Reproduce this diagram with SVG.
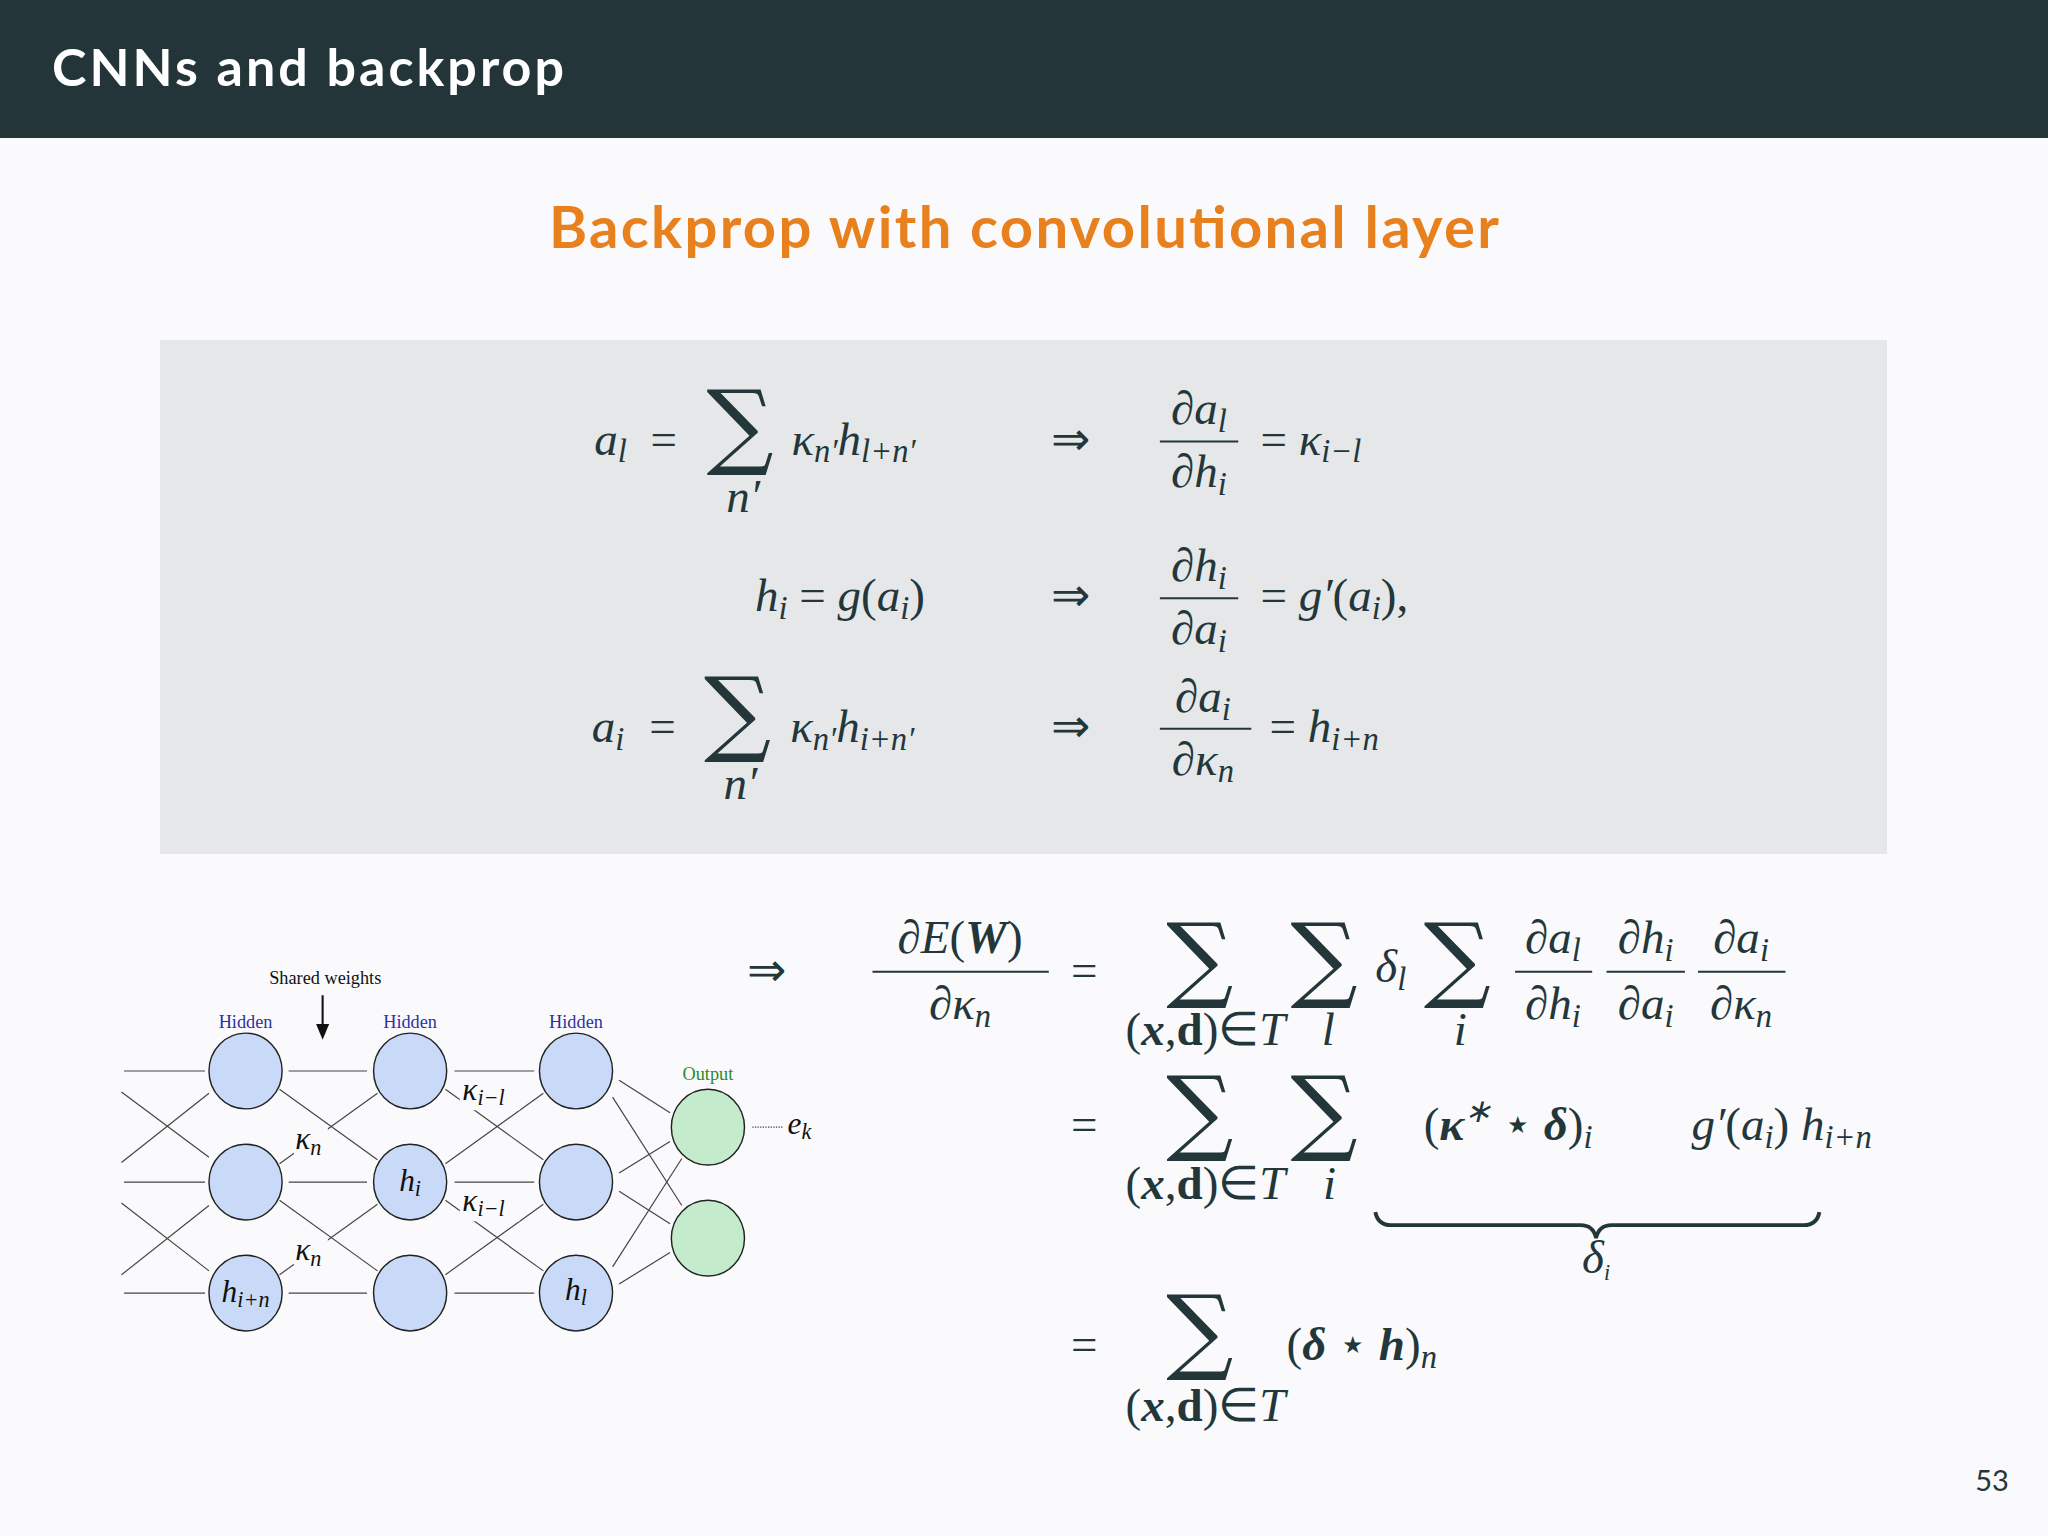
<svg xmlns="http://www.w3.org/2000/svg" width="2048" height="1536" viewBox="0 0 2048 1536">
<style>
.m{font-family:"Liberation Serif",serif;font-style:italic;fill:#23373B;font-size:36px}
.r{font-style:normal}
.s{font-size:25px}
.b{font-weight:bold}
.sum{font-family:"DejaVu Serif",serif;font-style:normal;fill:#23373B;font-size:72px}
.fl{stroke:#23373B;stroke-width:1.6}
.e{stroke:#444;stroke-width:0.9;fill:none}
.hid{fill:#C9DAF8;stroke:#222;stroke-width:1.1}
.out{fill:#C4EBCB;stroke:#222;stroke-width:1.1}
.lab{font-family:"Liberation Serif",serif;font-size:14px}
.nm{font-family:"Liberation Serif",serif;font-style:italic;fill:#111;font-size:24px}
.ns{font-size:17px}
</style>
<rect width="2048" height="1536" fill="#FAFAFC"/>
<rect width="2048" height="138" fill="#233539"/>
<text x="52" y="86" font-family="Lato,'Open Sans',sans-serif" font-weight="bold" font-size="52" fill="#FFFFFF" textLength="512">CNNs and backprop</text>
<text x="1024" y="248" text-anchor="middle" font-family="Lato,'Open Sans',sans-serif" font-weight="bold" font-size="58" fill="#E8801E" textLength="950">Backprop with convolutional layer</text>
<rect x="160" y="340" width="1727" height="514" fill="#E5E7E9"/>
<text x="1992" y="1491" text-anchor="middle" font-family="Lato,'Open Sans',sans-serif" font-size="29" fill="#23373B">53</text>

<g transform="scale(1.30612)">
<g id="eq1">
<text class="m" x="455" y="348">a<tspan class="s" dy="6">l</tspan></text>
<text class="m r" x="498" y="348">=</text>
<text class="sum" x="541" y="350">∑</text>
<text class="m" x="556" y="392" font-size="26">n′</text>
<text class="m" x="606" y="348">κ<tspan class="s" dy="6">n′</tspan><tspan dy="-6">h</tspan><tspan class="s" dy="6">l+n′</tspan></text>
<text class="m r" x="805" y="348">⇒</text>
<text class="m" x="918" y="325" text-anchor="middle">∂a<tspan class="s" dy="6">l</tspan></text>
<line class="fl" x1="888" y1="338" x2="948" y2="338"/>
<text class="m" x="918" y="373" text-anchor="middle">∂h<tspan class="s" dy="6">i</tspan></text>
<text class="m" x="965" y="348"><tspan class="r">=</tspan> κ<tspan class="s" dy="6">i−l</tspan></text>
</g>
<g id="eq2">
<text class="m" x="578" y="468">h<tspan class="s" dy="6">i</tspan><tspan class="r" dy="-6"> = </tspan>g<tspan class="r">(</tspan>a<tspan class="s" dy="6">i</tspan><tspan class="r" dy="-6">)</tspan></text>
<text class="m r" x="805" y="468">⇒</text>
<text class="m" x="918" y="445" text-anchor="middle">∂h<tspan class="s" dy="6">i</tspan></text>
<line class="fl" x1="888" y1="458" x2="948" y2="458"/>
<text class="m" x="918" y="493" text-anchor="middle">∂a<tspan class="s" dy="6">i</tspan></text>
<text class="m" x="965" y="468"><tspan class="r">=</tspan> g′<tspan class="r">(</tspan>a<tspan class="s" dy="6">i</tspan><tspan class="r" dy="-6">),</tspan></text>
</g>
<g id="eq3">
<text class="m" x="453" y="568">a<tspan class="s" dy="6">i</tspan></text>
<text class="m r" x="497" y="568">=</text>
<text class="sum" x="539" y="570">∑</text>
<text class="m" x="554" y="612" font-size="26">n′</text>
<text class="m" x="605" y="568">κ<tspan class="s" dy="6">n′</tspan><tspan dy="-6">h</tspan><tspan class="s" dy="6">i+n′</tspan></text>
<text class="m r" x="805" y="568">⇒</text>
<text class="m" x="921" y="545" text-anchor="middle">∂a<tspan class="s" dy="6">i</tspan></text>
<line class="fl" x1="888" y1="558" x2="958" y2="558"/>
<text class="m" x="921" y="593" text-anchor="middle">∂κ<tspan class="s" dy="6">n</tspan></text>
<text class="m" x="972" y="568"><tspan class="r">=</tspan> h<tspan class="s" dy="6">i+n</tspan></text>
</g>

<g id="deriv">
<text class="m r" x="572" y="755">⇒</text>
<text class="m" x="735" y="730" text-anchor="middle">∂E<tspan class="r">(</tspan><tspan class="b">W</tspan><tspan class="r">)</tspan></text>
<line class="fl" x1="668" y1="744" x2="803" y2="744"/>
<text class="m" x="735" y="780" text-anchor="middle">∂κ<tspan class="s" dy="6">n</tspan></text>
<text class="m r" x="820" y="755">=</text>
<text class="sum" x="893" y="758">∑</text>
<text class="m" x="923" y="800" font-size="23" text-anchor="middle"><tspan class="r">(</tspan><tspan class="b">x</tspan><tspan class="r">,</tspan><tspan class="b r">d</tspan><tspan class="r">)∈</tspan>T</text>
<text class="sum" x="988" y="758">∑</text>
<text class="m" x="1017" y="800" font-size="23" text-anchor="middle">l</text>
<text class="m" x="1053" y="752">δ<tspan class="s" dy="6">l</tspan></text>
<text class="sum" x="1090" y="758">∑</text>
<text class="m" x="1118" y="800" font-size="23" text-anchor="middle">i</text>
<text class="m" x="1189" y="730" text-anchor="middle">∂a<tspan class="s" dy="6">l</tspan></text>
<line class="fl" x1="1160" y1="744" x2="1219" y2="744"/>
<text class="m" x="1189" y="780" text-anchor="middle">∂h<tspan class="s" dy="6">i</tspan></text>
<text class="m" x="1260" y="730" text-anchor="middle">∂h<tspan class="s" dy="6">i</tspan></text>
<line class="fl" x1="1230" y1="744" x2="1290" y2="744"/>
<text class="m" x="1260" y="780" text-anchor="middle">∂a<tspan class="s" dy="6">i</tspan></text>
<text class="m" x="1333" y="730" text-anchor="middle">∂a<tspan class="s" dy="6">i</tspan></text>
<line class="fl" x1="1300" y1="744" x2="1367" y2="744"/>
<text class="m" x="1333" y="780" text-anchor="middle">∂κ<tspan class="s" dy="6">n</tspan></text>

<text class="m r" x="820" y="873">=</text>
<text class="sum" x="893" y="875">∑</text>
<text class="m" x="923" y="918" font-size="23" text-anchor="middle"><tspan class="r">(</tspan><tspan class="b">x</tspan><tspan class="r">,</tspan><tspan class="b r">d</tspan><tspan class="r">)∈</tspan>T</text>
<text class="sum" x="988" y="875">∑</text>
<text class="m" x="1018" y="918" font-size="23" text-anchor="middle">i</text>
<text class="m" x="1090" y="873"><tspan class="r">(</tspan><tspan class="b">κ</tspan><tspan class="s" dy="-14">∗</tspan><tspan class="r" dy="14"> ⋆ </tspan><tspan class="b">δ</tspan><tspan class="r">)</tspan><tspan class="s" dy="6">i</tspan></text>
<text class="m" x="1295" y="873">g′<tspan class="r">(</tspan>a<tspan class="s" dy="6">i</tspan><tspan class="r" dy="-6">)</tspan> h<tspan class="s" dy="6">i+n</tspan></text>
<path d="M1053,928 Q1055,938 1065,938 L1210,938 Q1220,938 1222,948 Q1224,938 1234,938 L1381,938 Q1391,938 1393,928" fill="none" stroke="#23373B" stroke-width="3"/>
<text class="m" x="1222" y="975" font-size="24" text-anchor="middle">δ<tspan font-size="17" dy="5">i</tspan></text>

<text class="m r" x="820" y="1041">=</text>
<text class="sum" x="893" y="1043">∑</text>
<text class="m" x="923" y="1088" font-size="23" text-anchor="middle"><tspan class="r">(</tspan><tspan class="b">x</tspan><tspan class="r">,</tspan><tspan class="b r">d</tspan><tspan class="r">)∈</tspan>T</text>
<text class="m" x="985" y="1041"><tspan class="r">(</tspan><tspan class="b">δ</tspan><tspan class="r"> ⋆ </tspan><tspan class="b">h</tspan><tspan class="r">)</tspan><tspan class="s" dy="6">n</tspan></text>
</g>

<g id="connectors">
<line class="e" x1="95" y1="820" x2="157" y2="820"/>
<line class="e" x1="95" y1="905" x2="157" y2="905"/>
<line class="e" x1="95" y1="990" x2="157" y2="990"/>
<line class="e" x1="93" y1="836" x2="160" y2="886"/>
<line class="e" x1="93" y1="890" x2="160" y2="837"/>
<line class="e" x1="93" y1="921" x2="160" y2="973"/>
<line class="e" x1="93" y1="976" x2="160" y2="923"/>
<line class="e" x1="221" y1="820" x2="281" y2="820"/>
<line class="e" x1="221" y1="905" x2="281" y2="905"/>
<line class="e" x1="221" y1="990" x2="281" y2="990"/>
<line class="e" x1="214" y1="834" x2="289" y2="888"/>
<line class="e" x1="214" y1="891" x2="289" y2="837"/>
<line class="e" x1="214" y1="919" x2="289" y2="973"/>
<line class="e" x1="214" y1="976" x2="289" y2="922"/>
<line class="e" x1="348" y1="820" x2="409" y2="820"/>
<line class="e" x1="348" y1="905" x2="409" y2="905"/>
<line class="e" x1="348" y1="990" x2="409" y2="990"/>
<line class="e" x1="341" y1="834" x2="416" y2="888"/>
<line class="e" x1="341" y1="891" x2="416" y2="837"/>
<line class="e" x1="341" y1="919" x2="416" y2="973"/>
<line class="e" x1="341" y1="976" x2="416" y2="922"/>
<line class="e" x1="474" y1="827" x2="513" y2="852"/>
<line class="e" x1="469" y1="840" x2="522" y2="923"/>
<line class="e" x1="474" y1="898" x2="513" y2="874"/>
<line class="e" x1="474" y1="912" x2="513" y2="937"/>
<line class="e" x1="469" y1="970" x2="522" y2="887"/>
<line class="e" x1="474" y1="983" x2="513" y2="959"/>
<line x1="576" y1="863" x2="600" y2="863" stroke="#444" stroke-width="1" stroke-dasharray="1,1"/>
<line x1="247" y1="762" x2="247" y2="785" stroke="#111" stroke-width="1.6"/>
<path d="M242,784 L247,796 L252,784 Z" fill="#111"/>
</g>
<g id="edge-labels">
<rect x="225" y="862" width="26" height="22" fill="#FAFAFC"/>
<text class="nm" x="226" y="880">κ<tspan class="ns" dy="4">n</tspan></text>
<rect x="225" y="947" width="26" height="22" fill="#FAFAFC"/>
<text class="nm" x="226" y="965">κ<tspan class="ns" dy="4">n</tspan></text>
<rect x="352" y="828" width="46" height="22" fill="#FAFAFC"/>
<text class="nm" x="354" y="842">κ<tspan class="ns" dy="4">i−l</tspan></text>
<rect x="352" y="913" width="46" height="22" fill="#FAFAFC"/>
<text class="nm" x="354" y="927">κ<tspan class="ns" dy="4">i−l</tspan></text>
<text class="nm" x="603" y="868">e<tspan class="ns" dy="4">k</tspan></text>
<text class="lab" x="249" y="753" text-anchor="middle" fill="#111">Shared weights</text>
</g>
<g id="n11"><text class="lab" x="188" y="787" text-anchor="middle" fill="#3030A0">Hidden</text><ellipse class="hid" cx="188" cy="820" rx="28" ry="29"/></g>
<g id="n12"><ellipse class="hid" cx="188" cy="905" rx="28" ry="29"/></g>
<g id="n13"><ellipse class="hid" cx="188" cy="990" rx="28" ry="29"/><text class="nm" x="188" y="997" text-anchor="middle">h<tspan class="ns" dy="4">i+n</tspan></text></g>
<g id="n21"><text class="lab" x="314" y="787" text-anchor="middle" fill="#3030A0">Hidden</text><ellipse class="hid" cx="314" cy="820" rx="28" ry="29"/></g>
<g id="n22"><ellipse class="hid" cx="314" cy="905" rx="28" ry="29"/><text class="nm" x="314" y="912" text-anchor="middle">h<tspan class="ns" dy="4">i</tspan></text></g>
<g id="n23"><ellipse class="hid" cx="314" cy="990" rx="28" ry="29"/></g>
<g id="n31"><text class="lab" x="441" y="787" text-anchor="middle" fill="#3030A0">Hidden</text><ellipse class="hid" cx="441" cy="820" rx="28" ry="29"/></g>
<g id="n32"><ellipse class="hid" cx="441" cy="905" rx="28" ry="29"/></g>
<g id="n33"><ellipse class="hid" cx="441" cy="990" rx="28" ry="29"/><text class="nm" x="441" y="995" text-anchor="middle">h<tspan class="ns" dy="4">l</tspan></text></g>
<g id="o1"><text class="lab" x="542" y="827" text-anchor="middle" fill="#2A8A2A">Output</text><ellipse class="out" cx="542" cy="863" rx="28" ry="29"/></g>
<g id="o2"><ellipse class="out" cx="542" cy="948" rx="28" ry="29"/></g>
</g>
</svg>
